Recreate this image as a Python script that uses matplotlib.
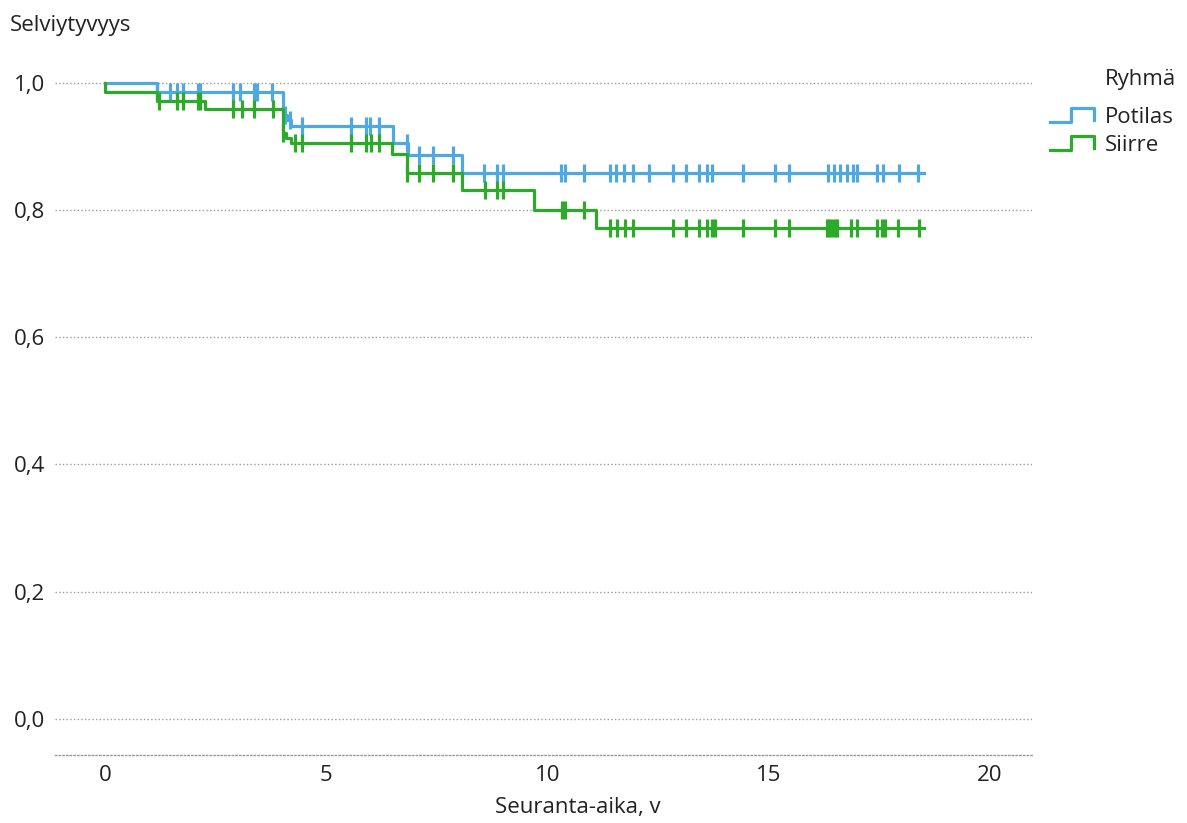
import numpy as np
import matplotlib
matplotlib.use("Agg")
import matplotlib.pyplot as plt
from matplotlib.lines import Line2D
from matplotlib.legend_handler import HandlerBase

# Kaplan-Meier -käyrät: tapahtuma-ajat (v) ja selviytyvyys tapahtuman jälkeen
potilas_ajat = [0, 1.18, 4.03, 4.11, 4.20, 6.52, 6.85, 8.06]
potilas_s = [1.0, 0.986, 0.950, 0.942, 0.932, 0.906, 0.887, 0.858]

siirre_ajat = [0, 0, 1.18, 2.26, 4.02, 4.10, 4.20, 6.48, 6.83, 8.08, 9.69, 11.10]
siirre_s = [1.0, 0.986, 0.972, 0.958, 0.921, 0.913, 0.905, 0.888, 0.858, 0.831, 0.800, 0.771]

# sensuroinnit
potilas_sensuroitu = [1.18, 1.47, 1.63, 1.76, 2.10, 2.15, 2.90, 3.06, 3.36, 3.44, 3.77,
                      4.07, 4.18, 4.45, 5.55, 5.90, 6.00, 6.20, 6.82, 7.10, 7.42, 7.86,
                      8.57, 8.87, 8.99, 10.30, 10.40, 10.83, 11.41, 11.56, 11.74, 11.93,
                      12.30, 12.83, 13.13, 13.43, 13.61, 13.71, 14.41, 15.14, 15.46,
                      16.35, 16.48, 16.61, 16.76, 16.91, 16.99, 17.45, 17.59, 17.95, 18.38]
siirre_sensuroitu = [1.23, 1.62, 1.76, 2.11, 2.15, 2.89, 3.09, 3.37, 3.79, 4.03, 4.29,
                     4.45, 5.55, 5.91, 6.01, 6.20, 6.83, 7.10, 7.42, 7.86, 8.59, 8.87,
                     8.99, 10.32, 10.40, 10.83, 11.41, 11.58, 11.75, 11.93, 12.83, 13.13,
                     13.43, 13.61, 13.71, 13.79, 14.41, 15.14, 15.46, 16.32, 16.37, 16.43,
                     16.49, 16.54, 16.87, 16.99, 17.45, 17.55, 17.63, 17.93, 18.40]
seuranta_loppu = 18.5

ryhmat = ["Potilas", "Siirre"]
varit = ["#4fa9e0", "#2eaa2a"]

x_tikit = [0, 5, 10, 15, 20]
y_tikit = [0.0, 0.2, 0.4, 0.6, 0.8, 1.0]
y_tekstit = ["0,0", "0,2", "0,4", "0,6", "0,8", "1,0"]

plt.rcParams["font.family"] = ["Open Sans", "DejaVu Sans"]
tekstivari = "#222222"


class Porras(HandlerBase):
    # legendan porrasmerkki
    def create_artists(self, legend, orig_handle, xdescent, ydescent,
                       width, height, fontsize, trans):
        xs = np.array([0, 0.47, 0.47, 1.0, 1.0]) * width - xdescent
        ys = np.array([0.05, 0.05, 0.95, 0.95, 0.2]) * height - ydescent
        viiva = Line2D(xs, ys, color=orig_handle.get_color(),
                       lw=orig_handle.get_linewidth())
        viiva.set_transform(trans)
        return [viiva]


fig = plt.figure(figsize=(11.87, 8.23), dpi=100)
ax = fig.add_axes([0.0463, 0.0826, 0.8231, 0.8323])

kahvat = []
for ajat, s, sens, vari in [(potilas_ajat, potilas_s, potilas_sensuroitu, varit[0]),
                            (siirre_ajat, siirre_s, siirre_sensuroitu, varit[1])]:
    t = np.append(ajat, seuranta_loppu)
    y = np.append(s, s[-1])
    viiva, = ax.step(t, y, where="post", color=vari, lw=2.3)
    idx = np.searchsorted(ajat, sens, side="right") - 1
    ax.plot(sens, np.array(s)[idx], ls="none", marker="|", ms=13, mew=2.3, color=vari)
    kahvat.append(viiva)

ax.set_xlim(-1.13, 20.95)
ax.set_ylim(-0.057, 1.02)
ax.set_xticks(x_tikit)
ax.set_yticks(y_tikit)
ax.set_yticklabels(y_tekstit)
ax.tick_params(length=0, labelsize=16, labelcolor=tekstivari, pad=7)
ax.yaxis.grid(True, ls=":", color="#9a9a9a", lw=1.0)
for puoli in ["top", "right", "left"]:
    ax.spines[puoli].set_visible(False)
ax.spines["bottom"].set_linestyle(":")
ax.spines["bottom"].set_color("#9a9a9a")
ax.spines["bottom"].set_linewidth(1.0)

fig.text(10 / 1187, 1 - 25 / 823, "Selviytyvyys", fontsize=16, color=tekstivari,
         ha="left", va="center")
fig.text(578 / 1187, 1 - 808 / 823, "Seuranta-aika, v", fontsize=16, color=tekstivari,
         ha="center", va="center")
fig.text(1105 / 1187, 1 - 80 / 823, "Ryhmä", fontsize=16, color=tekstivari,
         ha="left", va="center")

fig.legend(kahvat, ryhmat, loc="upper left", bbox_to_anchor=(1050 / 1187, 1 - 107 / 823),
           frameon=False, fontsize=16, labelcolor=tekstivari, handlelength=2.0,
           handletextpad=0.45, labelspacing=0.3, borderpad=0, borderaxespad=0,
           handler_map={Line2D: Porras()})

fig.savefig("out.png", dpi=100, facecolor="white")
